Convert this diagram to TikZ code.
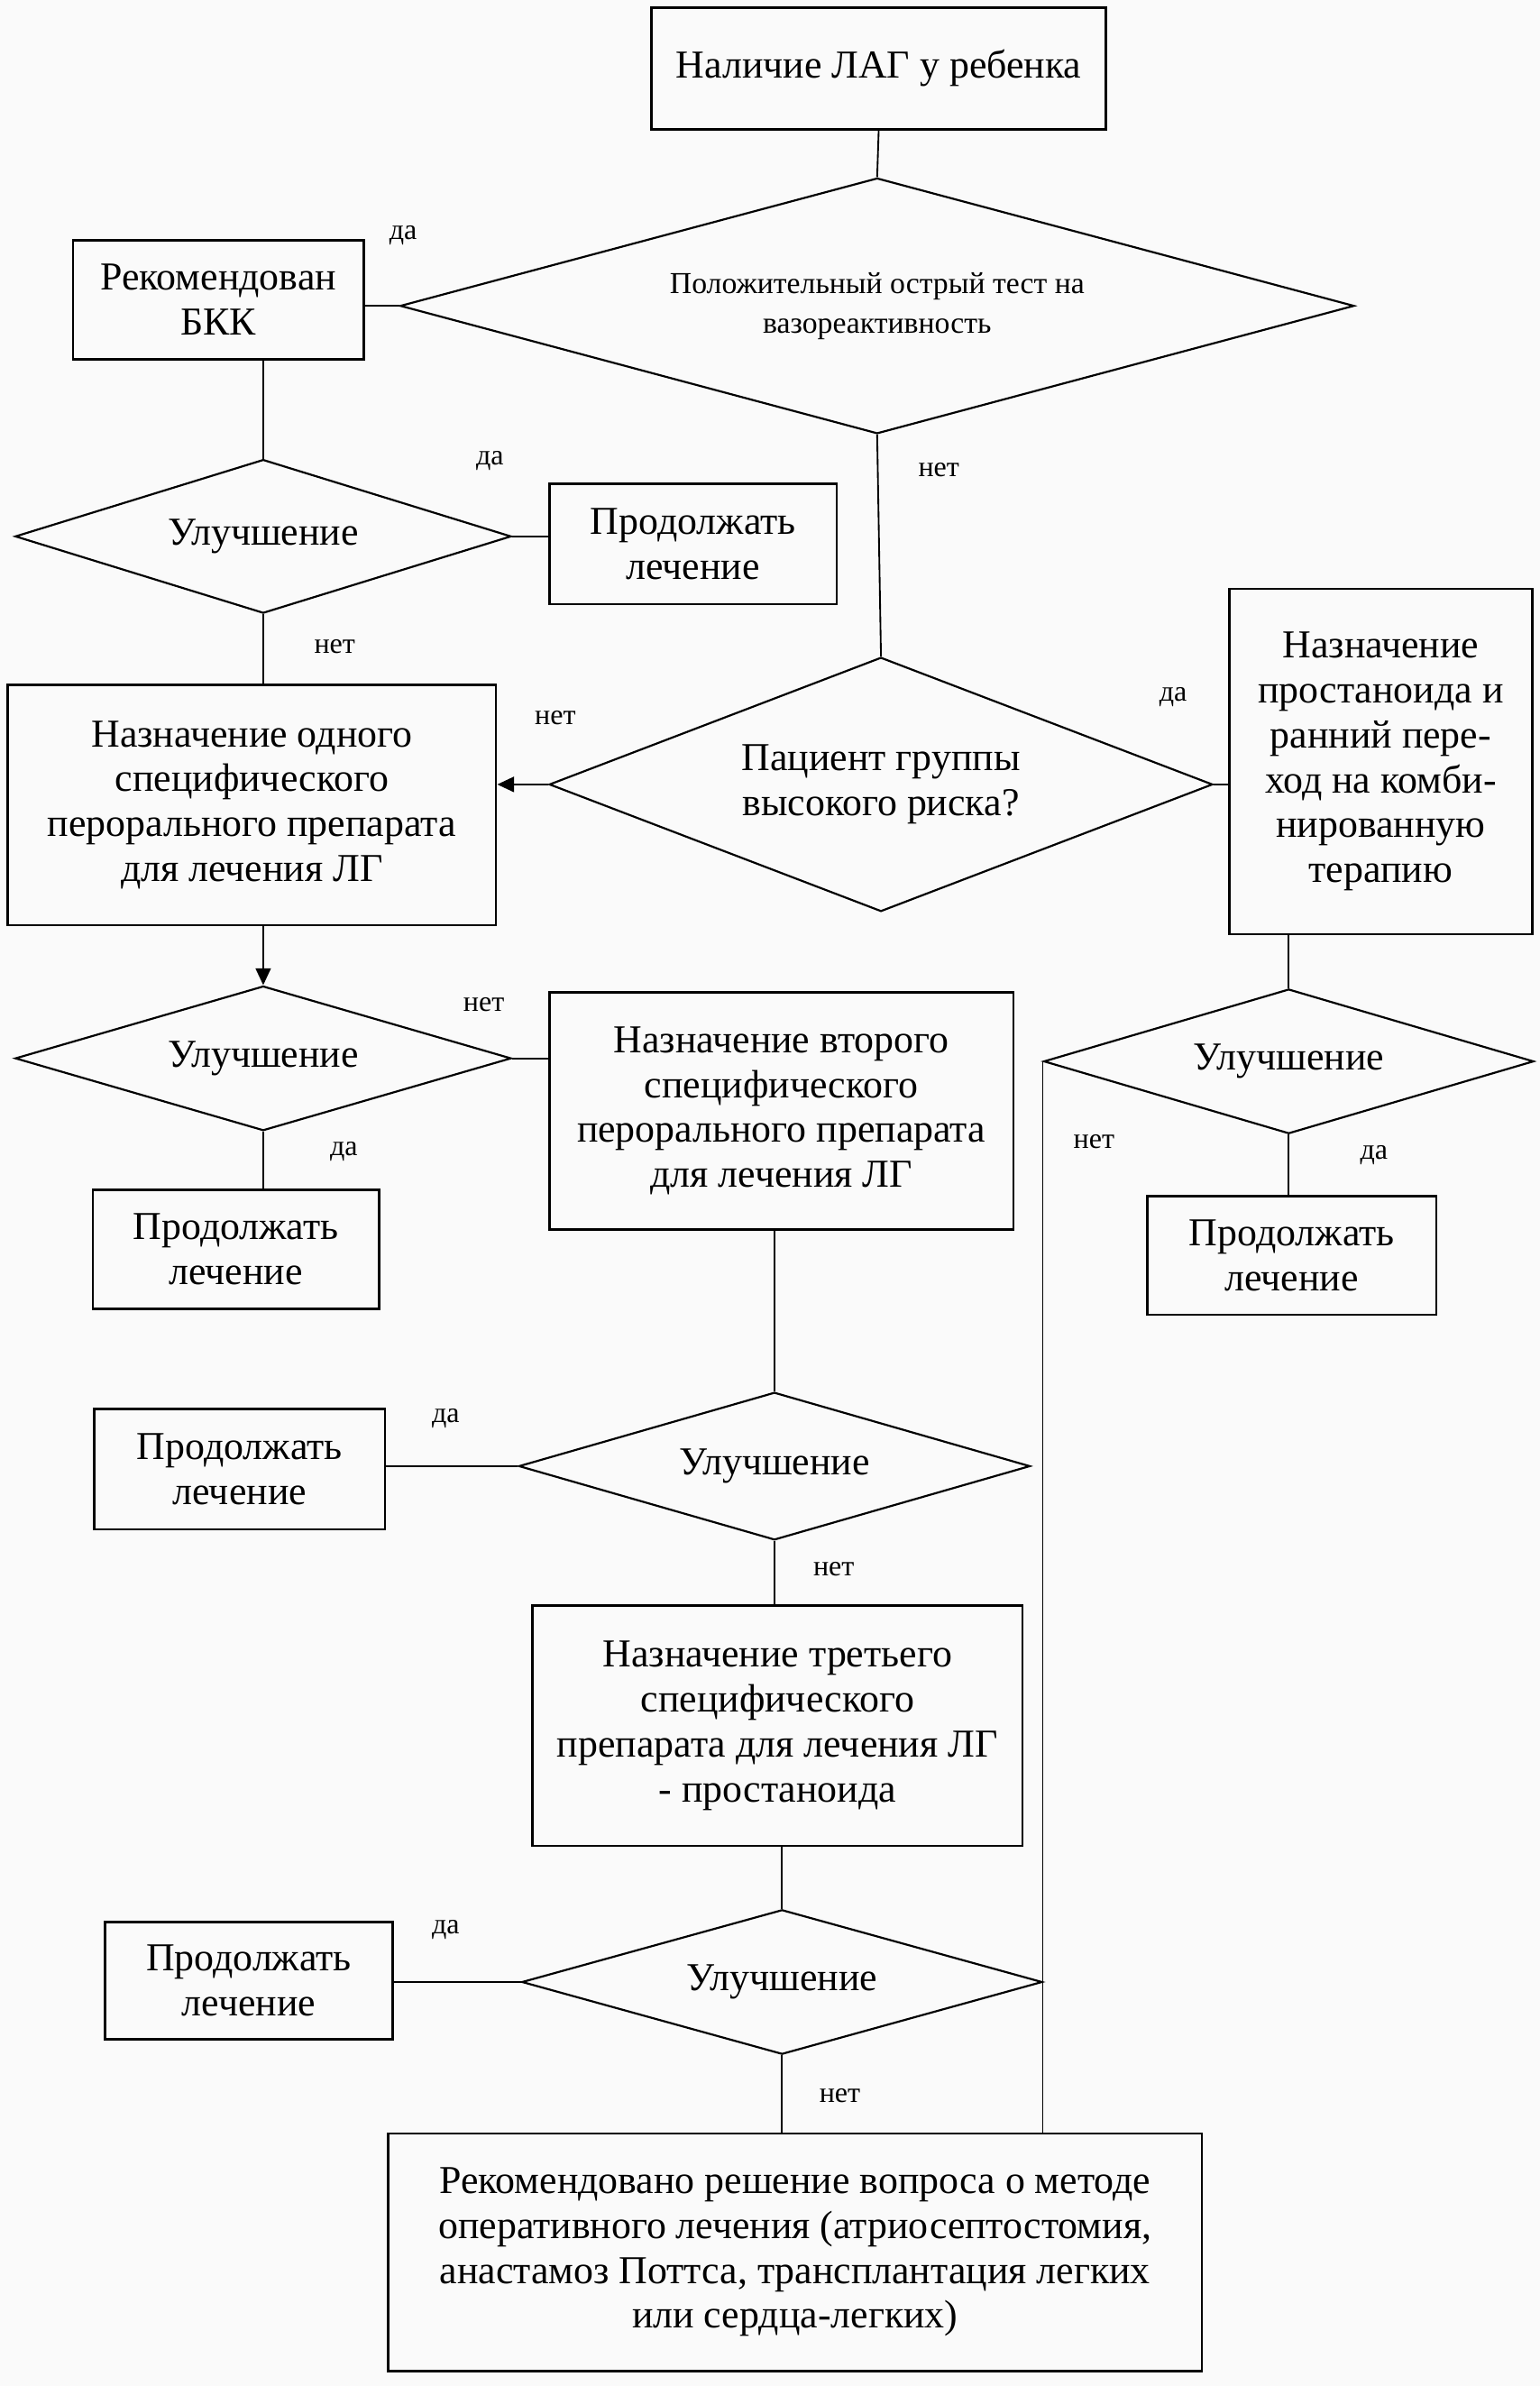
\documentclass[tikz,border=0pt]{standalone}
\usepackage{fontspec}
\setmainfont{Liberation Serif}
\usetikzlibrary{shapes.geometric, arrows.meta, positioning, calc}

\begin{document}
\begin{tikzpicture}[
    x=1pt, y=-1pt,
    block_node/.style={
        rectangle,
        draw=black,
        line width=1.6pt,
        inner sep=2pt,
        align=center,
        font=\fontsize{26}{29.5}\selectfont
    },
    cond_node/.style={
        diamond,
        draw=black,
        line width=1.3pt,
        inner sep=0pt,
        align=center,
        font=\fontsize{26}{29.5}\selectfont
    },
    ans_label/.style={font=\fontsize{19}{22}\selectfont, inner sep=0pt},
    link/.style={line width=1.1pt, black},
    arrow/.style={line width=1.1pt, -{Triangle[length=11pt, width=10pt]}, black}
]

    % Page and background
    \useasboundingbox (0,0) rectangle (1012,1568);
    \fill[black!2] (0,0) rectangle (1012,1568);

    % Nodes with manual positioning
    \node[block_node, minimum width=299pt, minimum height=80pt] (start) at (577.5,45) {Наличие ЛАГ у ребенка};

    \node[cond_node, shape aspect=3.73, minimum width=627pt, minimum height=168pt, font=\fontsize{20}{26}\selectfont] (d1) at (576.5,201) {Положительный острый тест на\\вазореактивность};

    \node[block_node, minimum width=191pt, minimum height=78pt] (bkk) at (143.5,197) {Рекомендован\\БКК};

    \node[cond_node, shape aspect=3.23, minimum width=326pt, minimum height=101pt] (d2) at (173,352.5) {Улучшение};

    \node[block_node, minimum width=189pt, minimum height=79pt] (cont1) at (455.5,357.5) {Продолжать\\лечение};

    \node[block_node, minimum width=321pt, minimum height=158pt] (pr1) at (165.5,529) {Назначение одного\\специфического\\перорального препарата\\для лечения ЛГ};

    \node[cond_node, shape aspect=2.61, minimum width=436pt, minimum height=167pt] (d3) at (579,515.5) {Пациент группы\\высокого риска?};

    \node[block_node, minimum width=199pt, minimum height=227pt] (pr2) at (907.5,500.5) {Назначение\\простаноида и\\ранний пере-\\ход на комби-\\нированную\\терапию};

    \node[cond_node, shape aspect=3.43, minimum width=326pt, minimum height=95pt] (d4) at (173,695.5) {Улучшение};

    \node[block_node, minimum width=305pt, minimum height=156pt] (pr3) at (513.5,730) {Назначение второго\\специфического\\перорального препарата\\для лечения ЛГ};

    \node[block_node, minimum width=188pt, minimum height=78pt] (cont2) at (155,821) {Продолжать\\лечение};

    \node[cond_node, shape aspect=3.39, minimum width=322pt, minimum height=95pt] (d5) at (847,697.5) {Улучшение};

    \node[block_node, minimum width=190pt, minimum height=78pt] (cont3) at (849,825) {Продолжать\\лечение};

    \node[cond_node, shape aspect=3.46, minimum width=336pt, minimum height=97pt] (d6) at (509,963.5) {Улучшение};

    \node[block_node, minimum width=191pt, minimum height=79pt] (cont4) at (157.5,965.5) {Продолжать\\лечение};

    \node[block_node, minimum width=322pt, minimum height=158pt] (pr4) at (511,1134) {Назначение третьего\\специфического\\препарата для лечения ЛГ\\- простаноида};

    \node[cond_node, shape aspect=3.6, minimum width=342pt, minimum height=95pt] (d7) at (514,1302.5) {Улучшение};

    \node[block_node, minimum width=189pt, minimum height=77pt] (cont5) at (163.5,1301.5) {Продолжать\\лечение};

    \node[block_node, minimum width=535pt, minimum height=156pt] (final) at (522.5,1480) {Рекомендовано решение вопроса о методе\\оперативного лечения (атриосептостомия,\\анастамоз Поттса, трансплантация легких\\или сердца-легких)};

    % Answer labels
    \node[ans_label] (a1) at (265,155) {да};
    \node[ans_label] (a2) at (322,303) {да};
    \node[ans_label] (a3) at (220,425) {нет};
    \node[ans_label] (a4) at (617,309) {нет};
    \node[ans_label] (a5) at (365,472) {нет};
    \node[ans_label] (a6) at (771,458) {да};
    \node[ans_label] (a7) at (318,660) {нет};
    \node[ans_label] (a8) at (226,757) {да};
    \node[ans_label] (a9) at (903,759) {да};
    \node[ans_label] (a10) at (719,750) {нет};
    \node[ans_label] (a11) at (293,932) {да};
    \node[ans_label] (a12) at (548,1031) {нет};
    \node[ans_label] (a13) at (293,1268) {да};
    \node[ans_label] (a14) at (552,1377) {нет};

    % Connectors
    \draw[link] (start.south) -- (d1.north);
    \draw[link] (d1.west) -- (d1.west -| bkk.east);
    \draw[link] (bkk.south -| d2.north) -- (d2.north);
    \draw[link] (d2.east) -- (d2.east -| cont1.west);
    \draw[link] (d2.south) -- (d2.south |- pr1.north);
    \draw[link] (d1.south) -- (d3.north);
    \draw[arrow] (d3.west) -- (d3.west -| pr1.east);
    \draw[link] (d3.east) -- (d3.east -| pr2.west);
    \draw[arrow] (pr1.south -| d4.north) -- (d4.north);
    \draw[link] (d4.east) -- (d4.east -| pr3.west);
    \draw[link] (d4.south) -- (d4.south |- cont2.north);
    \draw[link] (pr2.south -| d5.north) -- (d5.north);
    \draw[link] (d5.south) -- (d5.south |- cont3.north);
    \draw[link] (d5.west) -- (d5.west |- final.north);
    \draw[link] (pr3.south -| d6.north) -- (d6.north);
    \draw[link] (d6.west) -- (d6.west -| cont4.east);
    \draw[link] (d6.south) -- (d6.south |- pr4.north);
    \draw[link] (pr4.south -| d7.north) -- (d7.north);
    \draw[link] (d7.west) -- (d7.west -| cont5.east);
    \draw[link] (d7.south) -- (d7.south |- final.north);

\end{tikzpicture}
\end{document}
